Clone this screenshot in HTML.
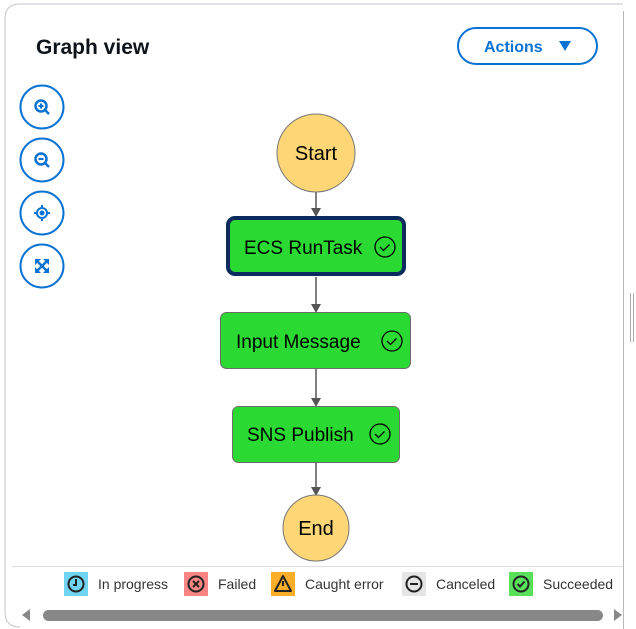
<!DOCTYPE html>
<html><head><meta charset="utf-8"><style>
html,body{margin:0;padding:0;background:#fff;width:636px;height:629px;overflow:hidden}
svg{display:block}
text{font-family:"Liberation Sans","DejaVu Sans",sans-serif}
</style></head><body>
<svg width="636" height="629" viewBox="0 0 636 629" xmlns="http://www.w3.org/2000/svg">
<path d="M623,4 H20 Q5,4 5,19 V612 Q5,627 20,627" fill="none" stroke="#c6c6cd" stroke-width="1"/>
<line x1="623.5" y1="11" x2="623.5" y2="629" stroke="#b8b8bd" stroke-width="1"/>
<line x1="630.5" y1="293" x2="630.5" y2="342" stroke="#aaa"/>
<line x1="633.5" y1="293" x2="633.5" y2="342" stroke="#aaa"/>
<text x="36" y="54" font-size="21" font-weight="bold" fill="#0f141a">Graph view</text>
<rect x="458" y="28" width="139" height="36" rx="18" fill="#fff" stroke="#0972d3" stroke-width="2"/>
<text x="484" y="52" font-size="16" font-weight="bold" fill="#0972d3">Actions</text>
<path d="M559,41 L571,41 L565,51 Z" fill="#0972d3"/>
<g fill="none" stroke="#0972d3" stroke-width="2">
<circle cx="42" cy="107" r="21.5"/><circle cx="42" cy="160" r="21.5"/><circle cx="42" cy="213" r="21.5"/><circle cx="42" cy="266" r="21.5"/>
<circle cx="41" cy="106" r="5.5" stroke-width="2.5"/><line x1="45" y1="110" x2="49" y2="114" stroke-width="2.5"/><line x1="38.5" y1="106" x2="43.5" y2="106"/><line x1="41" y1="103.5" x2="41" y2="108.5"/>
<circle cx="41" cy="159" r="5.5" stroke-width="2.5"/><line x1="45" y1="163" x2="49" y2="167" stroke-width="2.5"/><line x1="38.5" y1="159" x2="43.5" y2="159"/>
<circle cx="42" cy="213" r="5"/><line x1="42" y1="205" x2="42" y2="207"/><line x1="42" y1="219" x2="42" y2="221"/><line x1="34" y1="213" x2="36" y2="213"/><line x1="48" y1="213" x2="50" y2="213"/>
<line x1="37" y1="261" x2="47" y2="271" stroke-width="2.5"/><line x1="47" y1="261" x2="37" y2="271" stroke-width="2.5"/>
</g>
<circle cx="42" cy="213" r="2.5" fill="#0972d3"/>
<g fill="#0972d3">
<path d="M35,259 h6 l-6,6 z"/><path d="M49,259 v6 l-6,-6 z"/><path d="M35,273 v-6 l6,6 z"/><path d="M49,273 h-6 l6,-6 z"/>
</g>
<g stroke="#555" stroke-width="1.5">
<line x1="316" y1="192" x2="316" y2="210"/>
<line x1="316" y1="277" x2="316" y2="306"/>
<line x1="316" y1="369" x2="316" y2="400"/>
<line x1="316" y1="463" x2="316" y2="489"/>
</g>
<g fill="#555">
<path d="M311,208 h10 l-5,9 z"/><path d="M311,304 h10 l-5,9 z"/><path d="M311,398 h10 l-5,9 z"/><path d="M311,487 h10 l-5,9 z"/>
</g>
<circle cx="316" cy="153" r="39" fill="#fdd675" stroke="#777"/>
<text x="316" y="160" font-size="20" text-anchor="middle" fill="#000">Start</text>
<rect x="228" y="218" width="176" height="56" rx="7" fill="#2bd933" stroke="#0d2b5e" stroke-width="4"/>
<text x="244" y="254" font-size="19" fill="#000">ECS RunTask</text>
<circle cx="385" cy="247" r="10" fill="none" stroke="#000" stroke-width="1.3"/><path d="M380,247 l3.5,3.5 l6,-6" fill="none" stroke="#000" stroke-width="1.3"/>
<rect x="220.5" y="312.5" width="190" height="56" rx="6" fill="#2bd933" stroke="#6b6b6b"/>
<text x="236" y="348" font-size="19" fill="#000">Input Message</text>
<circle cx="392" cy="341" r="10" fill="none" stroke="#000" stroke-width="1.3"/><path d="M387,341 l3.5,3.5 l6,-6" fill="none" stroke="#000" stroke-width="1.3"/>
<rect x="232.5" y="406.5" width="167" height="56" rx="6" fill="#2bd933" stroke="#6b6b6b"/>
<text x="247" y="441" font-size="19" fill="#000">SNS Publish</text>
<circle cx="380" cy="434" r="10" fill="none" stroke="#000" stroke-width="1.3"/><path d="M375,434 l3.5,3.5 l6,-6" fill="none" stroke="#000" stroke-width="1.3"/>
<circle cx="316" cy="528" r="33" fill="#fdd675" stroke="#777"/>
<text x="316" y="535" font-size="20" text-anchor="middle" fill="#000">End</text>
<line x1="12" y1="566.5" x2="623" y2="566.5" stroke="#ddd"/>
<g font-size="14" fill="#333">
<rect x="64" y="572" width="24" height="24" fill="#6fd5f2"/><circle cx="76" cy="584" r="7.5" fill="none" stroke="#222" stroke-width="2"/><path d="M76,579 V585 H73" fill="none" stroke="#222" stroke-width="2"/>
<text x="98" y="589">In progress</text>
<rect x="184" y="572" width="24" height="24" fill="#f98683"/><circle cx="196" cy="584" r="7.5" fill="none" stroke="#222" stroke-width="2"/><path d="M193,581 l6,6 M199,581 l-6,6" stroke="#222" stroke-width="2"/>
<text x="218" y="589">Failed</text>
<rect x="271" y="572" width="24" height="24" fill="#fcae2a"/><path d="M283,576 L291,591 L275,591 Z" fill="none" stroke="#222" stroke-width="2" stroke-linejoin="round"/><line x1="283" y1="581" x2="283" y2="586" stroke="#222" stroke-width="2"/>
<text x="305" y="589">Caught error</text>
<rect x="402" y="572" width="24" height="24" fill="#e5e5e5"/><circle cx="414" cy="584" r="7.5" fill="none" stroke="#222" stroke-width="2"/><line x1="410" y1="584" x2="418" y2="584" stroke="#222" stroke-width="2"/>
<text x="436" y="589">Canceled</text>
<rect x="509" y="572" width="24" height="24" fill="#58e05a"/><circle cx="521" cy="584" r="7.5" fill="none" stroke="#222" stroke-width="2"/><path d="M517.5,584 l2.5,2.5 l4.5,-5" fill="none" stroke="#222" stroke-width="2"/>
<text x="543" y="589">Succeeded</text>
</g>
<path d="M22,615 L30,609 L30,621 Z" fill="#888"/>
<rect x="43" y="610" width="560" height="11" rx="5.5" fill="#888"/>
<path d="M622,615 L614,609 L614,621 Z" fill="#888"/>
</svg>
</body></html>
